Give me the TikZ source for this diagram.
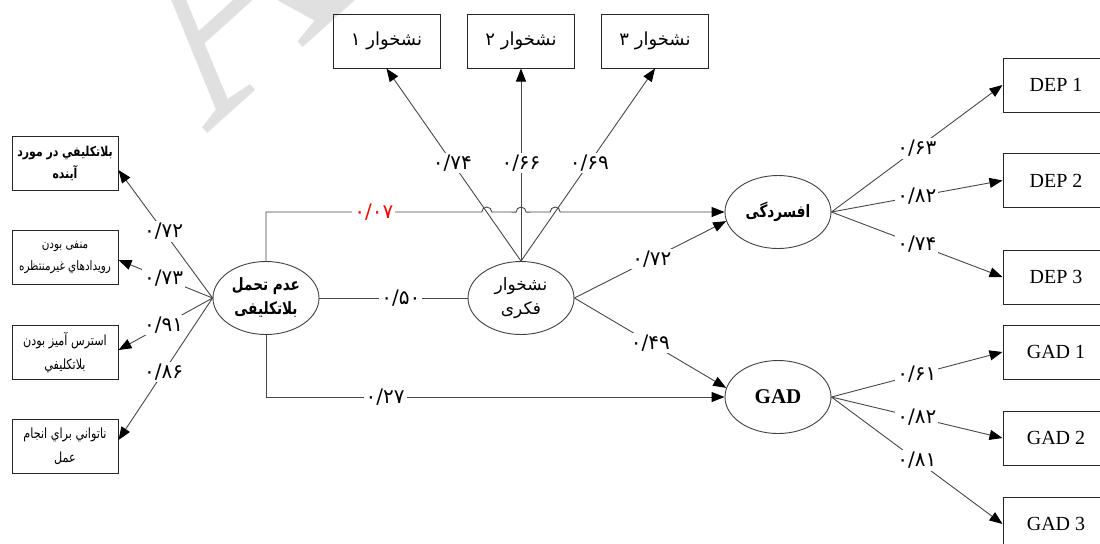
\documentclass[tikz,border=0pt]{standalone}
\usepackage{fontspec}
\setmainfont{Liberation Serif}
\newfontfamily\arabicfont[Script=Arabic]{DejaVu Sans}
\newfontfamily\narrowfont[Script=Arabic,FakeStretch=0.8]{DejaVu Sans}
\TeXXeTstate=1
\usepackage{tikz}
\usetikzlibrary{shapes,arrows.meta,positioning,calc}
\newcommand{\fa}[1]{{\beginR #1\endR}}

\begin{document}
\begin{tikzpicture}[x=0.5pt,y=-0.5pt,
    box/.style={draw=black!85, line width=0.5pt, minimum width=53pt, minimum height=27pt, inner sep=1pt, align=center},
    latent/.style={ellipse, draw=black!75, line width=0.45pt, minimum width=53pt, minimum height=36.5pt, inner sep=0pt, align=center},
    link/.style={draw=black!72, line width=0.45pt},
    conn/.style={link, -{Triangle[length=6.5pt,width=5pt,color=black]}},
    lbl/.style={fill=white, inner sep=1pt, font=\arabicfont\fontsize{10}{11}\selectfont}]
            % page frame
            \useasboundingbox (0,0) rectangle (1100,543);
            \clip (0,0) rectangle (1100,543);
            \def\hop{2.5pt}

            % faint watermark
            \node (wm) [rotate=42, anchor=base west, text=black!12, font=\fontsize{150}{150}\selectfont] at (200,140) {Ar};

            % left indicators
            \node[box, font=\narrowfont\bfseries\fontsize{6.8}{11}\selectfont] (fut) at (65,163) {\fa{بلاتکلیفي در مورد}\\\fa{آینده}};
            \node[box, font=\narrowfont\fontsize{6.5}{11}\selectfont] (neg) at (65,257.5) {\fa{منفی بودن}\\\fa{رویدادهاي غیرمنتظره}};
            \node[box, font=\narrowfont\fontsize{7}{12}\selectfont] (str) at (65,352.5) {\fa{استرس آمیز بودن}\\\fa{بلاتکلیفي}};
            \node[box, font=\narrowfont\fontsize{7}{12}\selectfont] (inab) at (65,446.5) {\fa{ناتواني براي انجام}\\\fa{عمل}};

            % latent variables
            \node[latent, font=\narrowfont\bfseries\fontsize{8.5}{12}\selectfont] (unc) at (266,298) {\fa{عدم تحمل}\\\fa{بلاتکلیفی}};
            \node[latent, font=\arabicfont\fontsize{8.5}{12}\selectfont] (rum) at (521,298) {\fa{نشخوار}\\\fa{فکری}};
            \node[latent, font=\narrowfont\bfseries\fontsize{8.5}{11}\selectfont] (dep) at (778,212) {\fa{افسردگی}};
            \node[latent, font=\bfseries\fontsize{10.5}{12}\selectfont] (gad) at (778,397) {GAD};

            % top indicators
            \node[box, minimum width=53.5pt, font=\arabicfont\fontsize{9}{11}\selectfont] (r1) at (386.5,41) {\fa{نشخوار ۱}};
            \node[box, minimum width=53.5pt, font=\arabicfont\fontsize{9}{11}\selectfont] (r2) at (521,41) {\fa{نشخوار ۲}};
            \node[box, minimum width=53.5pt, font=\arabicfont\fontsize{9}{11}\selectfont] (r3) at (655,41) {\fa{نشخوار ۳}};

            % right indicators
            \node[box, font=\fontsize{10}{12}\selectfont] (d1) at (1056,85) {DEP 1};
            \node[box, font=\fontsize{10}{12}\selectfont] (d2) at (1056,180.5) {DEP 2};
            \node[box, font=\fontsize{10}{12}\selectfont] (d3) at (1056,277) {DEP 3};
            \node[box, font=\fontsize{10}{12}\selectfont] (g1) at (1056,352) {GAD 1};
            \node[box, font=\fontsize{10}{12}\selectfont] (g2) at (1056,438) {GAD 2};
            \node[box, font=\fontsize{10}{12}\selectfont] (g3) at (1056,524) {GAD 3};

            % loadings of the left factor
            \draw[conn] (unc.west) -- node[lbl,pos=0.52]{۰/۷۲} ([yshift=-3.5pt]fut.east);
            \draw[conn] (unc.west) -- node[lbl,pos=0.52]{۰/۷۳} ([yshift=-1.25pt]neg.east);
            \draw[conn] (unc.west) -- node[lbl,pos=0.52]{۰/۹۱} ([yshift=1.25pt]str.east);
            \draw[conn] (unc.west) -- node[lbl,pos=0.52]{۰/۸۶} ([yshift=3.25pt]inab.east);

            % loadings of rumination
            \draw[conn] (rum.north) -- node[lbl,pos=0.51]{۰/۷۴} (r1.south);
            \draw[conn] (rum.north) -- node[lbl,pos=0.51]{۰/۶۶} (r2.south);
            \draw[conn] (rum.north) -- node[lbl,pos=0.51]{۰/۶۹} (r3.south);

            % direct path with little hops over the loadings
            \coordinate (corner) at (unc.north|-dep.west);
            \coordinate (h1) at (intersection of rum.north--r1.south and corner--dep.west);
            \coordinate (h2) at (intersection of rum.north--r2.south and corner--dep.west);
            \coordinate (h3) at (intersection of rum.north--r3.south and corner--dep.west);
            \draw[conn] (unc.north) |- ([xshift=-\hop]h1) node[lbl,pos=0.75,text=red]{۰/۰۷}
                arc[start angle=180,end angle=0,radius=\hop] -- ([xshift=-\hop]h2)
                arc[start angle=180,end angle=0,radius=\hop] -- ([xshift=-\hop]h3)
                arc[start angle=180,end angle=0,radius=\hop] -- (dep.west);
            \draw[conn] (unc.south) |- node[lbl,pos=0.63]{۰/۲۷} (gad.west);
            \draw[link] (unc.east) -- node[lbl,pos=0.55]{۰/۵۰} (rum.west);

            % rumination to outcomes
            \draw[conn] (rum.east) -- node[lbl,pos=0.51]{۰/۷۲} (dep.190);
            \draw[conn] (rum.east) -- node[lbl,pos=0.5]{۰/۴۹} (gad.170);

            % loadings of the outcomes
            \draw[conn] (dep.east) -- node[lbl,pos=0.5]{۰/۶۳} (d1.west);
            \draw[conn] (dep.east) -- node[lbl,pos=0.5]{۰/۸۲} (d2.west);
            \draw[conn] (dep.east) -- node[lbl,pos=0.5]{۰/۷۴} (d3.west);
            \draw[conn] (gad.east) -- node[lbl,pos=0.5]{۰/۶۱} (g1.west);
            \draw[conn] (gad.east) -- node[lbl,pos=0.5]{۰/۸۲} (g2.west);
            \draw[conn] (gad.east) -- node[lbl,pos=0.5]{۰/۸۱} (g3.west);
        \end{tikzpicture}
\end{document}
